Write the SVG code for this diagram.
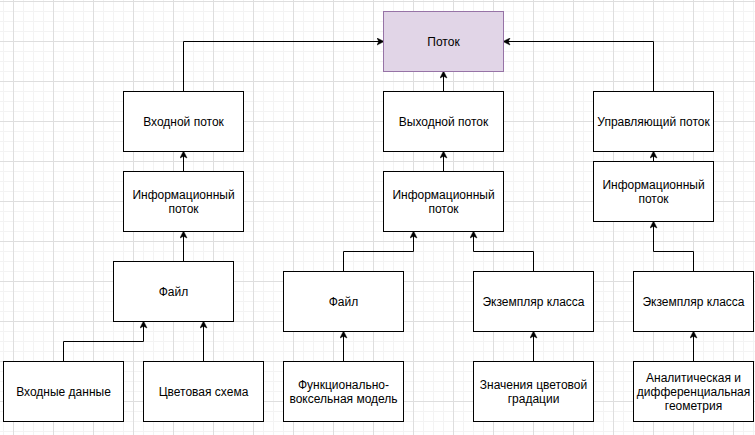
<svg xmlns="http://www.w3.org/2000/svg" width="755" height="435" viewBox="0 0 755 435">
<style>
.box{fill:#ffffff;stroke:#000000;stroke-width:1}
.main{fill:#e1d5e7;stroke:#9673a6;stroke-width:1}
.t{font-family:"Liberation Sans",Arial,sans-serif;font-size:12px;fill:#000000;text-anchor:middle}
.e{fill:none;stroke:#000000;stroke-width:1;marker-end:url(#arr)}
.l{fill:none;stroke:#000000;stroke-width:1}
</style>
<defs>
<pattern id="grid" patternUnits="userSpaceOnUse" x="13" y="1" width="40" height="40">
<path d="M10.5,0V40M20.5,0V40M30.5,0V40M0,10.5H40M0,20.5H40M0,30.5H40" stroke="#f3f3f3" stroke-width="1" fill="none"/>
<path d="M0.5,0V40M0,0.5H40" stroke="#dedede" stroke-width="1" fill="none"/>
</pattern>
<marker id="arr" markerUnits="userSpaceOnUse" viewBox="0 0 8 8" markerWidth="8" markerHeight="8" refX="7" refY="4" orient="auto">
<path d="M7.5,4 L0.5,0.5 L2.25,4 L0.5,7.5 Z" fill="#000000" stroke="#000000" stroke-width="0.5"/>
</marker>
</defs>
<rect x="0" y="0" width="755" height="435" fill="#ffffff"/>
<rect x="0" y="0" width="755" height="435" fill="url(#grid)"/>

<g id="connectors">
<path class="e" d="M183.5,91.5V41.5H383.5"/>
<path class="e" d="M183.5,171.5V151.5"/>
<path class="e" d="M183.5,261.5V231.5"/>
<path class="e" d="M63.5,361.5V341.5H143.5V321.5"/>
<path class="e" d="M203.5,361.5V321.5"/>
<path class="e" d="M443.5,91.5V71.5"/>
<path class="e" d="M443.5,171.5V151.5"/>
<path class="e" d="M343.5,271.5V251.5H413.5V231.5"/>
<path class="e" d="M343.5,361.5V331.5"/>
<path class="e" d="M533.5,271.5V251.5H473.5V231.5"/>
<path class="e" d="M533.5,361.5V331.5"/>
<path class="e" d="M653.5,91.5V41.5H503.5"/>
<path class="e" d="M653.5,161.5V151.5"/>
<path class="l" d="M653.5,151.5V141.5"/>
<path class="e" d="M693.5,271.5V251.5H653.5V221.5"/>
<path class="e" d="M693.5,361.5V331.5"/>
</g>

<g id="potok"><rect class="main" x="383.5" y="11.5" width="120" height="60"/><text class="t" x="443.5" y="45.5">Поток</text></g>

<g id="vhod-potok"><rect class="box" x="123.5" y="91.5" width="120" height="60"/><text class="t" x="183.5" y="125.5">Входной поток</text></g>
<g id="info-left"><rect class="box" x="123.5" y="171.5" width="120" height="60"/><text class="t" x="183.5" y="198.5">Информационный</text><text class="t" x="183.5" y="212.5">поток</text></g>
<g id="file-left"><rect class="box" x="113.5" y="261.5" width="120" height="60"/><text class="t" x="173.5" y="295.5">Файл</text></g>
<g id="vhod-dannye"><rect class="box" x="3.5" y="361.5" width="120" height="60"/><text class="t" x="63.5" y="395.5">Входные данные</text></g>
<g id="color-scheme"><rect class="box" x="143.5" y="361.5" width="120" height="60"/><text class="t" x="203.5" y="395.5">Цветовая схема</text></g>

<g id="vyhod-potok"><rect class="box" x="383.5" y="91.5" width="120" height="60"/><text class="t" x="443.5" y="125.5">Выходной поток</text></g>
<g id="info-mid"><rect class="box" x="383.5" y="171.5" width="120" height="60"/><text class="t" x="443.5" y="198.5">Информационный</text><text class="t" x="443.5" y="212.5">поток</text></g>
<g id="file-mid"><rect class="box" x="283.5" y="271.5" width="120" height="60"/><text class="t" x="343.5" y="305.5">Файл</text></g>
<g id="funk-voxel"><rect class="box" x="283.5" y="361.5" width="120" height="60"/><text class="t" x="343.5" y="388.5">Функционально-</text><text class="t" x="343.5" y="402.5">воксельная модель</text></g>
<g id="ekz-mid"><rect class="box" x="473.5" y="271.5" width="120" height="60"/><text class="t" x="533.5" y="305.5">Экземпляр класса</text></g>
<g id="znach"><rect class="box" x="473.5" y="361.5" width="120" height="60"/><text class="t" x="533.5" y="388.5">Значения цветовой</text><text class="t" x="533.5" y="402.5">градации</text></g>

<g id="upr-potok"><rect class="box" x="593.5" y="91.5" width="120" height="60"/><text class="t" x="653.5" y="125.5">Управляющий поток</text></g>
<g id="info-right"><rect class="box" x="593.5" y="161.5" width="120" height="60"/><text class="t" x="653.5" y="188.5">Информационный</text><text class="t" x="653.5" y="202.5">поток</text></g>
<g id="ekz-right"><rect class="box" x="633.5" y="271.5" width="120" height="60"/><text class="t" x="693.5" y="305.5">Экземпляр класса</text></g>
<g id="analit"><rect class="box" x="633.5" y="361.5" width="120" height="60"/><text class="t" x="693.5" y="381.5">Аналитическая и</text><text class="t" x="693.5" y="395.5">дифференциальная</text><text class="t" x="693.5" y="409.5">геометрия</text></g>
</svg>
